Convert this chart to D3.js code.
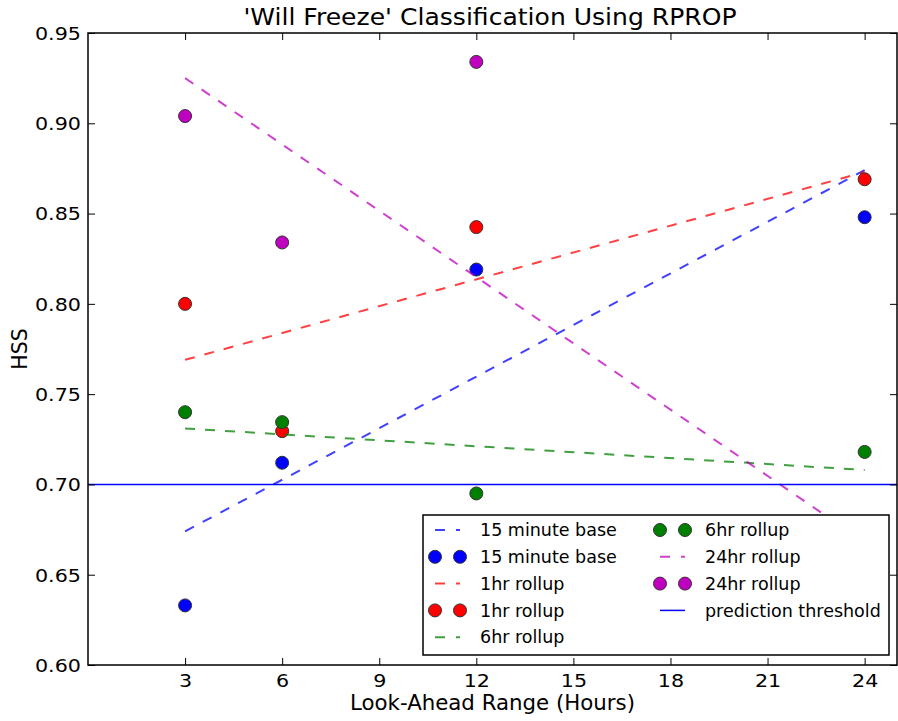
<!DOCTYPE html>
<html>
<head>
<meta charset="utf-8">
<style>
  body { margin: 0; background: #fff; }
  svg text { font-family: "DejaVu Sans", sans-serif; fill: #000; }
</style>
</head>
<body>
<svg id="chart" width="898" height="721"></svg>
<script src="https://d3js.org/d3.v7.min.js"></script>
<script>
// look-ahead ranges (hours)
const hours = [3, 6, 12, 24]
const xTicks = [3, 6, 9, 12, 15, 18, 21, 24]
const yTicks = [0.60, 0.65, 0.70, 0.75, 0.80, 0.85, 0.90, 0.95]

// HSS scores per series
const base15 = [0.633, 0.712, 0.819, 0.848]
const rollup1 = [0.800, 0.7295, 0.8425, 0.869]
const rollup6 = [0.740, 0.7345, 0.695, 0.718]
const rollup24 = [0.904, 0.834, 0.934, 0.624]

// trend line ends, read at 3h and 24h
const trendHours = [3, 24]
const trend15 = [0.674, 0.874]
const trend1 = [0.769, 0.873]
const trend6 = [0.731, 0.708]
const trend24 = [0.925, 0.668]

const threshold = 0.70

const series = [
  {name: '15 minute base', color: '#0000ff', pts: base15, trend: trend15},
  {name: '1hr rollup', color: '#ff0000', pts: rollup1, trend: trend1},
  {name: '6hr rollup', color: '#008000', pts: rollup6, trend: trend6},
  {name: '24hr rollup', color: '#bf00bf', pts: rollup24, trend: trend24}
]

const svg = d3.select('#chart')
const mLeft = 88, mRight = 897, mTop = 33, mBottom = 665

const x = d3.scaleLinear().domain([0, 25]).range([mLeft, mRight])
const y = d3.scaleLinear().domain([0.60, 0.95]).range([mBottom, mTop])

// clip to plot area
svg.append('clipPath').attr('id', 'clip')
   .append('rect')
   .attr('x', mLeft).attr('y', mTop)
   .attr('width', mRight - mLeft).attr('height', mBottom - mTop)

const plot = svg.append('g').attr('clip-path', 'url(#clip)')

const line = d3.line().x(d => x(d[0])).y(d => y(d[1]))

// each series: trend line then its points (same order as the original plot)
series.forEach(s => {
  plot.append('path')
      .attr('d', line(trendHours.map((h, i) => [h, s.trend[i]])))
      .attr('fill', 'none')
      .attr('stroke', s.color)
      .attr('stroke-opacity', 0.75)
      .attr('stroke-width', 2)
      .attr('stroke-dasharray', '10,10')

  plot.selectAll(null)
      .data(hours.map((h, i) => [h, s.pts[i]]))
      .join('circle')
      .attr('cx', d => x(d[0]))
      .attr('cy', d => y(d[1]))
      .attr('r', 6.5)
      .attr('fill', s.color)
      .attr('stroke', '#333')
      .attr('stroke-width', 1)
})

// threshold
plot.append('line')
    .attr('x1', mLeft).attr('x2', mRight)
    .attr('y1', y(threshold)).attr('y2', y(threshold))
    .attr('stroke', '#0000ff').attr('stroke-width', 1.5)

// axes (tick labels are a bit wide in the original, so stretch them)
const tickLen = 7
const stretch = 'scale(1.18,1)'
const axB = svg.append('g').attr('transform', `translate(0,${mBottom})`)
  .call(d3.axisBottom(x).tickValues(xTicks).tickSizeInner(-tickLen).tickSizeOuter(0).tickPadding(10))
const axT = svg.append('g').attr('transform', `translate(0,${mTop})`)
  .call(d3.axisTop(x).tickValues(xTicks).tickSizeInner(-tickLen).tickSizeOuter(0).tickFormat(''))
const axL = svg.append('g').attr('transform', `translate(${mLeft},0)`)
  .call(d3.axisLeft(y).tickValues(yTicks).tickSizeInner(-tickLen).tickSizeOuter(0).tickPadding(6).tickFormat(d3.format('.2f')))
const axR = svg.append('g').attr('transform', `translate(${mRight},0)`)
  .call(d3.axisRight(y).tickValues(yTicks).tickSizeInner(-tickLen).tickSizeOuter(0).tickFormat(''))

;[axB, axT, axL, axR].forEach(a => {
  a.select('.domain').remove()
  a.selectAll('.tick line').attr('stroke', '#000').attr('stroke-width', 1)
  a.selectAll('.tick text').style('font-size', '17.5px').attr('fill', '#000')
   .attr('transform', stretch)
})
axL.selectAll('.tick text').attr('dy', '0.36em')

// frame
svg.append('rect')
   .attr('x', mLeft).attr('y', mTop)
   .attr('width', mRight - mLeft).attr('height', mBottom - mTop)
   .attr('fill', 'none').attr('stroke', '#000').attr('stroke-width', 1.5)

// labels
svg.append('text')
   .attr('transform', `translate(490,25) scale(1.09,1)`)
   .attr('text-anchor', 'middle').style('font-size', '23px')
   .text("'Will Freeze' Classification Using RPROP")
svg.append('text').attr('x', (mLeft + mRight) / 2).attr('y', 710)
   .attr('text-anchor', 'middle').style('font-size', '21.3px')
   .text('Look-Ahead Range (Hours)')
svg.append('text')
   .attr('transform', `translate(27,${(mTop + mBottom) / 2}) rotate(-90)`)
   .attr('text-anchor', 'middle').style('font-size', '20.5px')
   .text('HSS')

// legend
const legend = svg.append('g')
legend.append('rect')
      .attr('x', 423).attr('y', 515).attr('width', 466).attr('height', 140)
      .attr('fill', '#fff').attr('stroke', '#000').attr('stroke-width', 1.5)

const entries = []
series.forEach(s => {
  entries.push({type: 'dash', name: s.name, color: s.color})
  entries.push({type: 'dot', name: s.name, color: s.color})
})
entries.push({type: 'solid', name: 'prediction threshold', color: '#0000ff'})

entries.forEach((e, i) => {
  const col = i < 5 ? 0 : 1
  const row = i < 5 ? i : i - 5
  const gx = col === 0 ? 435 : 660
  const gy = 530 + row * 26.8
  const g = legend.append('g').attr('transform', `translate(${gx},${gy})`)
  if (e.type === 'dash') {
    g.append('line').attr('x1', 0).attr('x2', 25).attr('y1', 0).attr('y2', 0)
     .attr('stroke', e.color).attr('stroke-opacity', 0.75).attr('stroke-width', 2)
     .attr('stroke-dasharray', '10,11')
  } else if (e.type === 'dot') {
    ;[0, 25].forEach(cx => g.append('circle').attr('cx', cx).attr('cy', 0).attr('r', 6.5)
      .attr('fill', e.color).attr('stroke', '#333').attr('stroke-width', 1))
  } else {
    g.append('line').attr('x1', 0).attr('x2', 25).attr('y1', 0).attr('y2', 0)
     .attr('stroke', e.color).attr('stroke-width', 1.5)
  }
  g.append('text').attr('x', 45).attr('y', 0).attr('dy', '0.35em')
   .style('font-size', '17.5px').text(e.name)
})
</script>
</body>
</html>
